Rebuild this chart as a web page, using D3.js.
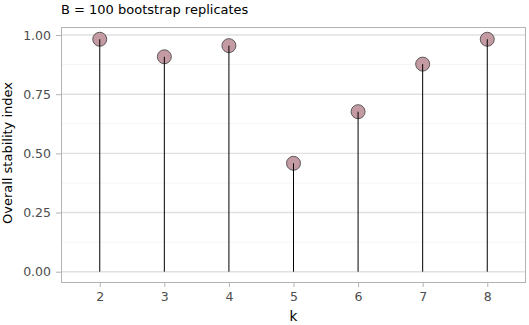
<!DOCTYPE html>
<html><head><meta charset="utf-8">
<script src="https://cdn.jsdelivr.net/npm/d3@7"></script>
<style>body{margin:0;background:#fff;} text{font-family:"DejaVu Sans",sans-serif;}</style>
</head><body>
<svg id="c" width="529" height="325"></svg>
<script>
const categories = ["2","3","4","5","6","7","8"];
const values = [0.982, 0.908, 0.955, 0.458, 0.676, 0.877, 0.982];
const yTicks = [0, 0.25, 0.5, 0.75, 1.0];
const yMinor = [0.125, 0.375, 0.625, 0.875];
const title = "B = 100 bootstrap replicates";

const svg = d3.select("#c");
const L = 61, R = 526, T = 27, B = 283;
const x = d3.scalePoint().domain(categories).range([L, R]).padding(0.6);
const y = d3.scaleLinear().domain([0, 1]).range([271.7, 35]);

const g = svg.append("g");
g.selectAll(".minor").data(yMinor).enter().append("line")
  .attr("x1", L).attr("x2", R).attr("y1", d=>y(d)).attr("y2", d=>y(d))
  .attr("stroke", "#eeeeee").attr("stroke-width", 0.6);
g.selectAll(".major").data(yTicks).enter().append("line")
  .attr("x1", L).attr("x2", R).attr("y1", d=>y(d)).attr("y2", d=>y(d))
  .attr("stroke", "#e0e0e0").attr("stroke-width", 1.4);

const data = categories.map((c,i)=>({k:c, v:values[i]}));
g.selectAll("circle").data(data).enter().append("circle")
  .attr("cx", d=>x(d.k)).attr("cy", d=>y(d.v)).attr("r", 7)
  .attr("fill", "#c59ba3").attr("stroke", "#4d4d4d").attr("stroke-width", 0.9);
g.selectAll(".seg").data(data).enter().append("line")
  .attr("x1", d=>x(d.k)).attr("x2", d=>x(d.k)).attr("y1", y(0)).attr("y2", d=>y(d.v))
  .attr("stroke", "#000").attr("stroke-width", 1);

svg.append("rect").attr("x", L+0.5).attr("y", T+0.5).attr("width", R-L-1).attr("height", B-T-1)
  .attr("fill", "none").attr("stroke", "#b3b3b3").attr("stroke-width", 1);

const ya = svg.append("g").attr("transform", `translate(${L},0)`)
  .call(d3.axisLeft(y).tickValues(yTicks).tickFormat(d3.format(".2f")).tickSize(5).tickPadding(5));
const xa = svg.append("g").attr("transform", `translate(0,${B})`)
  .call(d3.axisBottom(x).tickSize(4).tickPadding(5));
[ya, xa].forEach(a=>{
  a.select(".domain").remove();
  a.selectAll(".tick line").attr("stroke", "#b3b3b3");
  a.selectAll(".tick text").attr("fill", "#4d4d4d").style("font-size", "12.5px");
});

svg.append("text").attr("x", 293.5).attr("y", 321).attr("text-anchor", "middle")
  .style("font-size", "13.5px").attr("fill", "#000").text("k");
svg.append("text").attr("transform", "translate(12,153) rotate(-90)").attr("text-anchor", "middle")
  .style("font-size", "13px").attr("fill", "#000").text("Overall stability index");
svg.append("text").attr("x", 61).attr("y", 14).style("font-size", "13px").attr("fill", "#000").text(title);
</script></body></html>
